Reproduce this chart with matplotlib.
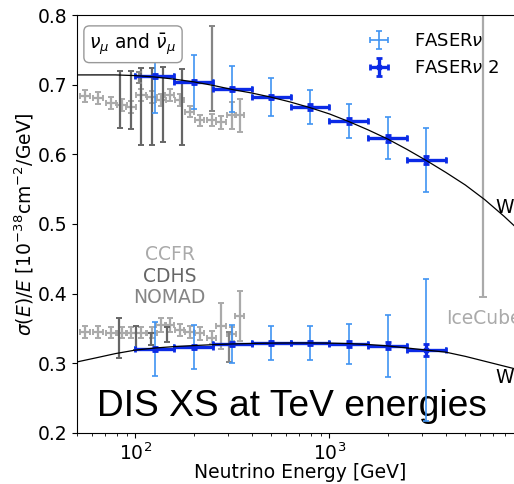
import numpy as np
import matplotlib
matplotlib.use("Agg")
import matplotlib.pyplot as plt

# ---- FASERnu / FASERnu2 projections (8 log-spaced energy bins, GeV) ----
bin_lo = [100, 158, 251, 398, 631, 1000, 1585, 2512]
bin_hi = [158, 251, 398, 631, 1000, 1585, 2512, 3981]
bin_c = [126, 200, 316, 501, 794, 1259, 1995, 3162]

nu_xs = [0.712, 0.704, 0.694, 0.682, 0.668, 0.648, 0.623, 0.592]
nubar_xs = [0.3206, 0.3235, 0.3278, 0.3292, 0.3292, 0.3278, 0.325, 0.3192]

fasernu_nu_err = [0.053, 0.039, 0.033, 0.027, 0.024, 0.024, 0.030, 0.046]
fasernu_nubar_err = [0.039, 0.032, 0.027, 0.024, 0.024, 0.029, 0.044, 0.102]
fasernu2_nu_err = [0.003, 0.003, 0.003, 0.003, 0.004, 0.004, 0.005, 0.006]
fasernu2_nubar_err = [0.003, 0.003, 0.003, 0.003, 0.003, 0.004, 0.005, 0.008]

# ---- Standard Model prediction ----
sm_E = [50, 63, 79, 100, 126, 158, 200, 251, 316, 398, 501, 631,
        794, 1000, 1259, 1585, 1995, 2512, 3162, 3981, 5012, 6310, 7943, 10000]
sm_nu = [0.714, 0.714, 0.714, 0.713, 0.711, 0.708, 0.704, 0.699, 0.693, 0.688,
         0.682, 0.675, 0.667, 0.658, 0.647, 0.635, 0.622, 0.607, 0.591, 0.574,
         0.556, 0.535, 0.511, 0.485]
sm_nubar = [0.302, 0.308, 0.314, 0.319, 0.322, 0.324, 0.3255, 0.3268, 0.3278,
            0.3285, 0.329, 0.3292, 0.3292, 0.329, 0.3283, 0.327, 0.325, 0.322,
            0.319, 0.316, 0.310, 0.303, 0.296, 0.289]

# ---- accelerator measurements ----
ccfr_E = [47, 55, 64, 75, 85, 95, 107, 122, 136, 150, 169, 190, 214, 247, 277, 313, 344]
ccfr_nu = [0.707, 0.684, 0.681, 0.674, 0.671, 0.668, 0.685, 0.682, 0.678, 0.685,
           0.678, 0.661, 0.649, 0.649, 0.646, 0.656, 0.656]
ccfr_nu_err = [0.004, 0.009, 0.009, 0.009, 0.009, 0.009, 0.009, 0.009, 0.009, 0.009,
               0.009, 0.008, 0.008, 0.009, 0.009, 0.019, 0.024]
ccfr_nubar = [0.331, 0.345, 0.345, 0.344, 0.344, 0.344, 0.344, 0.344, 0.355, 0.355,
              0.348, 0.345, 0.343, 0.337, 0.353, 0.342, 0.368]
ccfr_nubar_err = [0.004, 0.008, 0.008, 0.008, 0.008, 0.008, 0.008, 0.008, 0.010, 0.010,
                  0.009, 0.009, 0.009, 0.009, 0.033, 0.010, 0.036]

cdhs_nu_E = [83, 95, 107, 122, 138, 173]
cdhs_nu = [0.679, 0.678, 0.669, 0.669, 0.672, 0.668]
cdhs_nu_err = [0.041, 0.042, 0.055, 0.055, 0.054, 0.054]
cdhs_nubar_E = [82, 101, 121, 145]
cdhs_nubar = [0.336, 0.336, 0.335, 0.341]
cdhs_nubar_err = [0.029, 0.017, 0.009, 0.011]

nomad_nu_E = [104, 249]
nomad_nu = [0.710, 0.723]
nomad_nu_err = [0.008, 0.061]
nomad_nubar_E = [305]
nomad_nubar = [0.3235]
nomad_nubar_err = [0.0215]

# ---- IceCube ----
icecube_E = [6150]
icecube_val = [0.90]
icecube_err_lo = [0.505]
icecube_err_hi = [0.30]

C_NU1 = "#3f93f2"
C_NU2 = "#0b2ae6"
C_CCFR = "#aaaaaa"
C_CDHS = "#666666"
C_NOMAD = "#858585"

plt.rcParams["font.family"] = ["DejaVu Sans"]
plt.rcParams["font.size"] = 13.5

fig = plt.figure(figsize=(5.14, 4.84), dpi=100)
ax = fig.add_axes([0.1498, 0.1054, 0.8687, 0.8636])


def log_xerr(E, half=0.025):
    E = np.asarray(E, float)
    return [E * (1 - 10 ** -half), E * (10 ** half - 1)]


# accelerator data
for vals, errs in ((ccfr_nu, ccfr_nu_err), (ccfr_nubar, ccfr_nubar_err)):
    ax.errorbar(ccfr_E, vals, yerr=errs, xerr=log_xerr(ccfr_E), fmt="none",
                ecolor=C_CCFR, elinewidth=1.6, capsize=2.2, capthick=1.4, zorder=2)
for E, vals, errs in ((cdhs_nu_E, cdhs_nu, cdhs_nu_err), (cdhs_nubar_E, cdhs_nubar, cdhs_nubar_err)):
    ax.errorbar(E, vals, yerr=errs, fmt="none", ecolor=C_CDHS,
                elinewidth=1.6, capsize=2.5, capthick=1.4, zorder=2)
for E, vals, errs in ((nomad_nu_E, nomad_nu, nomad_nu_err), (nomad_nubar_E, nomad_nubar, nomad_nubar_err)):
    ax.errorbar(E, vals, yerr=errs, fmt="none", ecolor=C_NOMAD,
                elinewidth=1.6, capsize=2.5, capthick=1.4, zorder=2)

# IceCube
ax.errorbar(icecube_E, icecube_val, yerr=[icecube_err_lo, icecube_err_hi], fmt="none",
            ecolor=C_CCFR, elinewidth=1.6, capsize=3, capthick=1.4, zorder=2)

# FASER projections
xerr = [np.array(bin_c) - np.array(bin_lo), np.array(bin_hi) - np.array(bin_c)]
h1 = ax.errorbar(bin_c, nu_xs, yerr=fasernu_nu_err, xerr=xerr, fmt="none",
                 ecolor=C_NU1, elinewidth=1.2, capsize=2.5, capthick=1.2, zorder=3,
                 label=r"FASER$\nu$")
ax.errorbar(bin_c, nubar_xs, yerr=fasernu_nubar_err, xerr=xerr, fmt="none",
            ecolor=C_NU1, elinewidth=1.2, capsize=2.5, capthick=1.2, zorder=3)
h2 = ax.errorbar(bin_c, nu_xs, yerr=fasernu2_nu_err, xerr=xerr, fmt="s", ms=3.5,
                 color=C_NU2, elinewidth=2.4, capsize=2.2, capthick=2.0, zorder=4,
                 label=r"FASER$\nu$ 2")
ax.errorbar(bin_c, nubar_xs, yerr=fasernu2_nubar_err, xerr=xerr, fmt="s", ms=3.5,
            color=C_NU2, elinewidth=2.4, capsize=2.2, capthick=2.0, zorder=4)

# SM curves
ax.plot(sm_E, sm_nu, color="black", lw=0.9, zorder=5)
ax.plot(sm_E, sm_nubar, color="black", lw=0.9, zorder=5)

ax.set_xscale("log")
ax.set_xlim(50, 10000)
ax.set_ylim(0.2, 0.8)
ax.set_xticks([1e2, 1e3])
ax.set_yticks([0.2, 0.3, 0.4, 0.5, 0.6, 0.7, 0.8])
ax.set_xlabel("Neutrino Energy [GeV]", labelpad=-1)
ax.set_ylabel(r"$\sigma(E)/E$ [$10^{-38}$cm$^{-2}$/GeV]", labelpad=1)

# annotations
ax.text(150, 0.4555, "CCFR", color=C_CCFR, ha="center", va="center")
ax.text(150, 0.424, "CDHS", color=C_CDHS, ha="center", va="center")
ax.text(150, 0.395, "NOMAD", color=C_NOMAD, ha="center", va="center")
ax.text(4000, 0.365, "IceCube", color=C_CCFR, ha="left", va="center")
ax.text(7200, 0.523, "W", color="black", ha="left", va="center")
ax.text(7200, 0.280, "W", color="black", ha="left", va="center")
ax.text(0.028, 0.93, r"$\nu_\mu$ and $\bar{\nu}_\mu$", transform=ax.transAxes,
        ha="left", va="center", zorder=10,
        bbox=dict(boxstyle="round,pad=0.3", fc="white", ec="#999999", lw=1.0))
ax.text(0.0448, 0.0407, "DIS XS at TeV energies", transform=ax.transAxes,
        family="Liberation Sans", fontsize=26.7, ha="left", va="baseline", zorder=1)

ax.legend(handles=[h1, h2], loc="upper left", bbox_to_anchor=(0.70, 0.934),
          bbox_transform=fig.transFigure, frameon=False, borderpad=0,
          borderaxespad=0, handlelength=2.1, handletextpad=0.9, fontsize=13)

fig.savefig("out.png", dpi=100)
